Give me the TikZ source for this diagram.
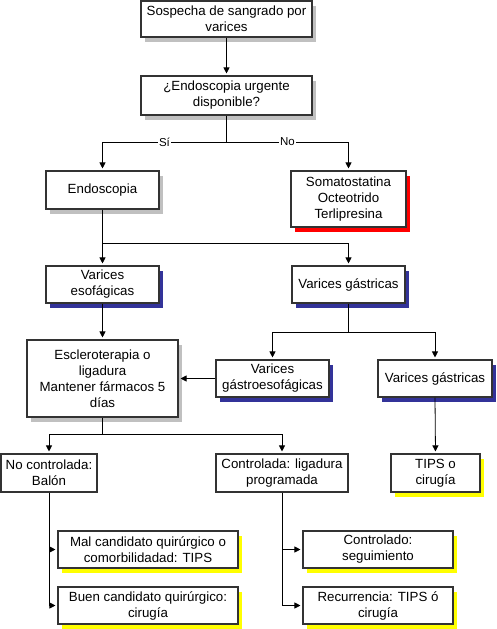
\documentclass[tikz,border=0pt]{standalone}
\usepackage{fontspec}
\setmainfont{Liberation Sans}
\usetikzlibrary{arrows.meta,shadows}
\definecolor{shgray}{RGB}{192,192,192}
\definecolor{shblue}{RGB}{51,51,153}
\definecolor{shred}{RGB}{255,0,0}
\definecolor{shyellow}{RGB}{255,255,0}
\tikzset{
  box/.style={draw=black!80, line width=1.1pt, fill=white, rectangle, align=center,
    inner sep=0pt, font=\fontsize{13.3}{16}\selectfont},
  sg/.style={drop shadow={shadow xshift=4pt, shadow yshift=-5pt, fill=shgray, opacity=1}},
  sb/.style={drop shadow={shadow xshift=4pt, shadow yshift=-5pt, fill=shblue, opacity=1}},
  sr/.style={drop shadow={shadow xshift=4pt, shadow yshift=-5pt, fill=shred, opacity=1}},
  sy/.style={drop shadow={shadow xshift=4pt, shadow yshift=-5pt, fill=shyellow, opacity=1}},
  conn/.style={draw=black, line width=0.8pt},
  arr/.style={conn, -{Triangle[length=6pt,width=6pt]}, shorten >=2pt},
  lbl/.style={fill=white, inner sep=1pt, font=\fontsize{11.5}{13}\selectfont},
}
\begin{document}
\begin{tikzpicture}[x=1pt,y=-1pt]
\useasboundingbox (0,0) rectangle (496,629);
% nodes
\node[box,sg,minimum width=171pt,minimum height=36pt] (s1) at (226.5,19) {Sospecha de sangrado por\\varices};
\node[box,sg,minimum width=171pt,minimum height=39pt] (s2) at (226.5,95.5) {¿Endoscopia urgente\\disponible?};
\node[box,sg,minimum width=113pt,minimum height=38pt] (endo) at (102.5,190) {Endoscopia};
\node[box,sr,minimum width=115pt,minimum height=56pt] (soma) at (348.5,199) {Somatostatina\\Octeotrido\\Terlipresina};
\node[box,sb,minimum width=113pt,minimum height=37pt] (vesof) at (102.5,284.5) {Varices\\esofágicas};
\node[box,sb,minimum width=113pt,minimum height=37pt] (vgas1) at (348.5,284.5) {Varices gástricas};
\node[box,sg,minimum width=151pt,minimum height=77pt] (escl) at (102.5,378.5) {Escleroterapia o\\ligadura\\Mantener fármacos 5\\días};
\node[box,sb,minimum width=113pt,minimum height=37pt] (vgeso) at (272.5,378.5) {Varices\\gástroesofágicas};
\node[box,sb,minimum width=114pt,minimum height=37pt] (vgas2) at (435,378.5) {Varices gástricas};
\node[box,minimum width=96pt,minimum height=38pt] (noctl) at (49,473) {No controlada:\\Balón};
\node[box,minimum width=132pt,minimum height=38pt] (ctl) at (282,473) {Controlada: ligadura\\programada};
\node[box,sy,minimum width=89pt,minimum height=38pt] (tips) at (435.5,473) {TIPS o\\cirugía};
\node[box,sy,minimum width=180pt,minimum height=37pt] (mal) at (148,549.5) {Mal candidato quirúrgico o\\comorbilidadad: TIPS};
\node[box,sy,minimum width=180pt,minimum height=37pt] (buen) at (148,605.5) {Buen candidato quirúrgico:\\cirugía};
\node[box,sy,minimum width=150pt,minimum height=37pt] (cseg) at (378,549.5) {Controlado:\\seguimiento};
\node[box,sy,minimum width=150pt,minimum height=37pt] (rec) at (378,605.5) {Recurrencia: TIPS ó\\cirugía};
% junctions
\coordinate (j1) at (226.5,142);
\coordinate (j2) at (102.5,243);
\coordinate (j3) at (348.5,332);
\coordinate (j4) at (102.5,434);
% connectors
\draw[arr] (s1.south) -- (s2.north);
\draw[conn] (s2.south) -- (j1);
\draw[arr] (j1) -| node[lbl,pos=0.25]{Sí} (endo.north);
\draw[arr] (j1) -| node[lbl,pos=0.25]{No} (soma.north);
\draw[conn] (endo.south) -- (j2);
\draw[arr] (j2) -- (vesof.north);
\draw[arr] (j2) -| (vgas1.north);
\draw[arr] (vesof.south) -- (escl.north);
\draw[conn] (vgas1.south) -- (j3);
\draw[arr] (j3) -| (vgeso.north);
\draw[arr] (j3) -| (vgas2.north);
\draw[arr] (vgeso.west) -- (escl.east);
\draw[conn] (escl.south) -- (j4);
\draw[arr] (j4) -| (noctl.north);
\draw[arr] (j4) -| (ctl.north);
\draw[arr] (vgas2.south) -- (tips.north);
\draw[arr] (noctl.south) |- (mal.west);
\draw[arr] (noctl.south) |- (buen.west);
\draw[arr] (ctl.south) |- (cseg.west);
\draw[arr] (ctl.south) |- (rec.west);
\end{tikzpicture}
\end{document}
